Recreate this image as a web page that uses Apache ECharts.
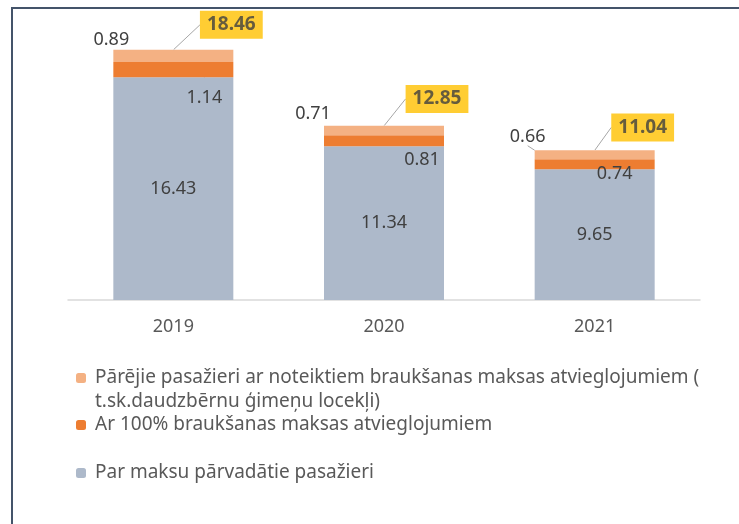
<!DOCTYPE html>
<html>
<head>
<meta charset="utf-8">
<script src="https://cdn.jsdelivr.net/npm/echarts@6/dist/echarts.min.js"></script>
<style>
  html, body { margin: 0; padding: 0; background: #fff; }
  #main { width: 739px; height: 524px; }
</style>
</head>
<body>
<div id="main"></div>
<script>
const categories = ['2019', '2020', '2021'];
const paidValues = [16.43, 11.34, 9.65];
const freeValues = [1.14, 0.81, 0.74];
const otherValues = [0.89, 0.71, 0.66];
const totalValues = [18.46, 12.85, 11.04];

const otherName = 'Pārējie pasažieri ar noteiktiem braukšanas maksas atvieglojumiem ( t.sk.daudzbērnu ģimeņu locekļi)';
const freeName = 'Ar 100% braukšanas maksas atvieglojumiem';
const paidName = 'Par maksu pārvadātie pasažieri';

// label nudges (px) and which ones get a leader line
const otherShift = [[-62, -16], [-71, -17], [-67, -18]];
const otherLine = [false, false, true];
const freeShift = [[31, 28], [38, 19], [20, 10]];
const freeLine = [true, false, false];
const totalShift = [[58, -25], [53, -27], [48, -23]];

const font = 'Noto Sans';
const labelColor = '#404040';
const guide = { lineStyle: { color: '#a6a6a6', width: 1 } };

function items(values, lines) {
  return values.map((v, i) => ({
    value: v,
    labelLine: { show: lines ? lines[i] : false, ...guide }
  }));
}

const legendText = { fontSize: 19, color: '#595959', lineHeight: 24, padding: [0, 0, 0, 4] };

const myChart = echarts.init(document.getElementById('main'));

myChart.setOption({
  animation: false,
  textStyle: { fontFamily: font },
  graphic: [{
    type: 'rect',
    shape: { x: 12, y: 8, width: 900, height: 700 },
    style: { fill: 'none', stroke: '#44546a', lineWidth: 2 },
    silent: true
  }],
  grid: { left: 68, right: 39, top: 29, bottom: 224 },
  legend: [
    {
      data: [otherName], left: 76, top: 342, padding: 0,
      itemWidth: 10, itemHeight: 10,
      // blank first line keeps the marker level with the first text line
      formatter: (n) => '\n' + n.replace('( ', '(\n'),
      textStyle: legendText
    },
    {
      data: [freeName], left: 76, top: 413, padding: 0,
      itemWidth: 10, itemHeight: 10,
      textStyle: legendText
    },
    {
      data: [paidName], left: 76, top: 461, padding: 0,
      itemWidth: 10, itemHeight: 10,
      textStyle: legendText
    }
  ],
  xAxis: {
    type: 'category',
    data: categories,
    axisLine: { lineStyle: { color: '#d9d9d9', width: 1.5 } },
    axisTick: { show: false },
    axisLabel: { color: '#595959', fontSize: 18, margin: 18 }
  },
  yAxis: {
    type: 'value',
    min: 0,
    max: 20,
    show: false,
    splitLine: { show: false }
  },
  series: [
    {
      name: paidName,
      type: 'bar',
      stack: 'total',
      barWidth: 120,
      itemStyle: { color: '#adb9ca' },
      label: { show: true, position: 'inside', color: labelColor, fontSize: 18 },
      data: items(paidValues)
    },
    {
      name: freeName,
      type: 'bar',
      stack: 'total',
      itemStyle: { color: '#ed7d31' },
      label: { show: true, position: 'inside', color: labelColor, fontSize: 18 },
      labelLayout: (p) => ({ dx: freeShift[p.dataIndex][0], dy: freeShift[p.dataIndex][1] }),
      data: items(freeValues, freeLine)
    },
    {
      name: otherName,
      type: 'bar',
      stack: 'total',
      itemStyle: { color: '#f4b183' },
      label: { show: true, position: 'inside', color: labelColor, fontSize: 18 },
      labelLayout: (p) => ({ dx: otherShift[p.dataIndex][0], dy: otherShift[p.dataIndex][1] }),
      data: items(otherValues, otherLine)
    },
    {
      name: 'Kopā',
      type: 'scatter',
      symbolSize: 1,
      itemStyle: { color: 'rgba(0,0,0,0)' },
      label: {
        show: true,
        position: 'inside',
        color: labelColor,
        fontSize: 19,
        fontWeight: 'bold',
        backgroundColor: '#ffc000',
        padding: [5, 7, 4, 7]
      },
      labelLine: { show: true, ...guide },
      labelLayout: (p) => ({ dx: totalShift[p.dataIndex][0], dy: totalShift[p.dataIndex][1] }),
      data: totalValues
    }
  ]
});
</script>
</body>
</html>
